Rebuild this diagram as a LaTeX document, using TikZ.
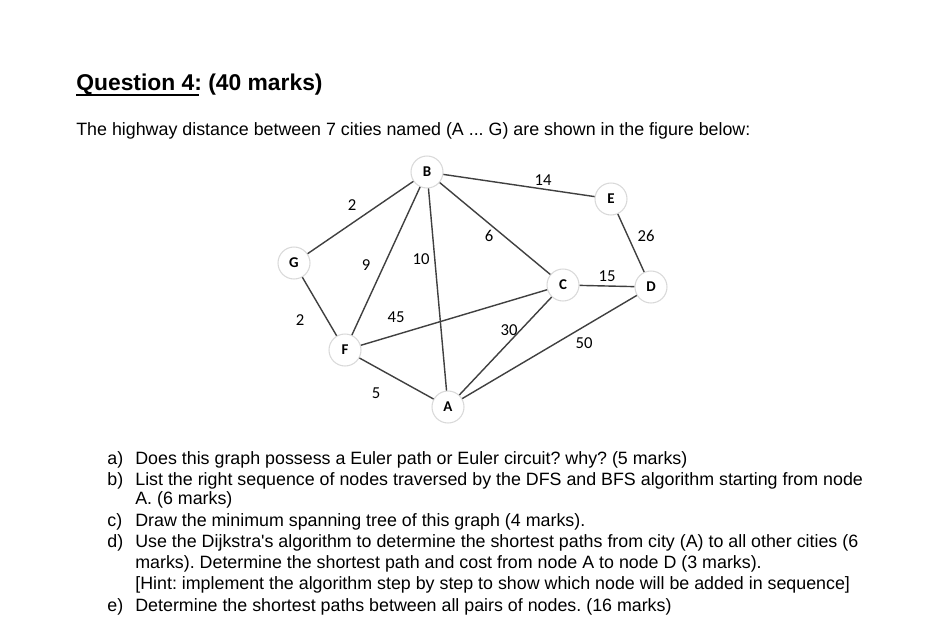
\documentclass[tikz,border=0pt]{standalone}
\usepackage{fontspec}
\setmainfont{Liberation Sans}
\newfontfamily\quotefont{Liberation Sans}
\newfontfamily\graphfont{Carlito}
\usetikzlibrary{positioning}
\frenchspacing

\begin{document}
\begin{tikzpicture}[x=0.02cm,y=-0.02cm,
  city/.style={circle,draw=gray!30,fill=white,line width=0.6pt,minimum size=0.64cm,inner sep=0pt,font=\graphfont\bfseries\fontsize{8.5}{8.5}\selectfont},
  road/.style={draw=black!75,line width=0.8pt},
  dist/.style={font=\graphfont\fontsize{9.5}{9.5}\selectfont,inner sep=0pt},
  txt/.style={anchor=base west,inner sep=0pt,font=\fontsize{10.15}{12}\selectfont}]
  \useasboundingbox[fill=white] (0,0) rectangle (951,637);
  % heading
  \node[anchor=base west,inner sep=0pt,font=\bfseries\fontsize{13}{15}\selectfont] (title) at (76,90) {Question 4: (40 marks)};
  \draw[line width=0.8pt] (76,95) -- (199,95);
  \node[txt] (intro) at (76,135) {The highway distance between 7 cities named (A ... G) are shown in the figure below:};
  % cities
  \node[city] (B) at (427,172) {B};
  \node[city] (E) at (611,199) {E};
  \node[city] (G) at (294,263) {G};
  \node[city] (C) at (563,285) {C};
  \node[city] (D) at (651,287) {D};
  \node[city] (F) at (345,350) {F};
  \node[city] (A) at (448,407) {A};
  % roads
  \draw[road] (G) -- (B);
  \draw[road] (G) -- (F);
  \draw[road] (B) -- (F);
  \draw[road] (B) -- (A);
  \draw[road] (B) -- (C);
  \draw[road] (B) -- (E);
  \draw[road] (E) -- (D);
  \draw[road] (C) -- (D);
  \draw[road] (F) -- (C);
  \draw[road] (A) -- (C);
  \draw[road] (A) -- (D);
  \draw[road] (F) -- (A);
  % distances
  \node[dist] (dGB) at (352,205) {2};
  \node[dist] (dBF) at (366,265) {9};
  \node[dist] (dBA) at (421,259) {10};
  \node[dist] (dBC) at (489,236) {6};
  \node[dist] (dBE) at (543,180) {14};
  \node[dist] (dED) at (646,236) {26};
  \node[dist] (dCD) at (607,276) {15};
  \node[dist] (dGF) at (300,320) {2};
  \node[dist] (dFC) at (396,317) {45};
  \node[dist] (dAC) at (509,330) {30};
  \node[dist] (dAD) at (584,343) {50};
  \node[dist] (dFA) at (376,393) {5};
  % questions
  \node[txt] (qa) at (107,464) {a)};
  \node[txt] (qb) at (107,485) {b)};
  \node[txt] (qc) at (107,526) {c)};
  \node[txt] (qd) at (107,547) {d)};
  \node[txt] (qe) at (107,611) {e)};
  \node[txt] (la1) at (135,464) {Does this graph possess a Euler path or Euler circuit? why? (5 marks)};
  \node[txt] (lb1) at (135,485) {List the right sequence of nodes traversed by the DFS and BFS algorithm starting from node};
  \node[txt] (lb2) at (135,504) {A. (6 marks)};
  \node[txt] (lc1) at (135,526) {Draw the minimum spanning tree of this graph (4 marks).};
  \node[txt] (ld1) at (135,547) {Use the Dijkstra{\quotefont '}s algorithm to determine the shortest paths from city (A) to all other cities (6};
  \node[txt] (ld2) at (135,568) {marks). Determine the shortest path and cost from node A to node D (3 marks).};
  \node[txt] (ld3) at (135,589) {[Hint: implement the algorithm step by step to show which node will be added in sequence]};
  \node[txt] (le1) at (135,611) {Determine the shortest paths between all pairs of nodes. (16 marks)};
\end{tikzpicture}
\end{document}
